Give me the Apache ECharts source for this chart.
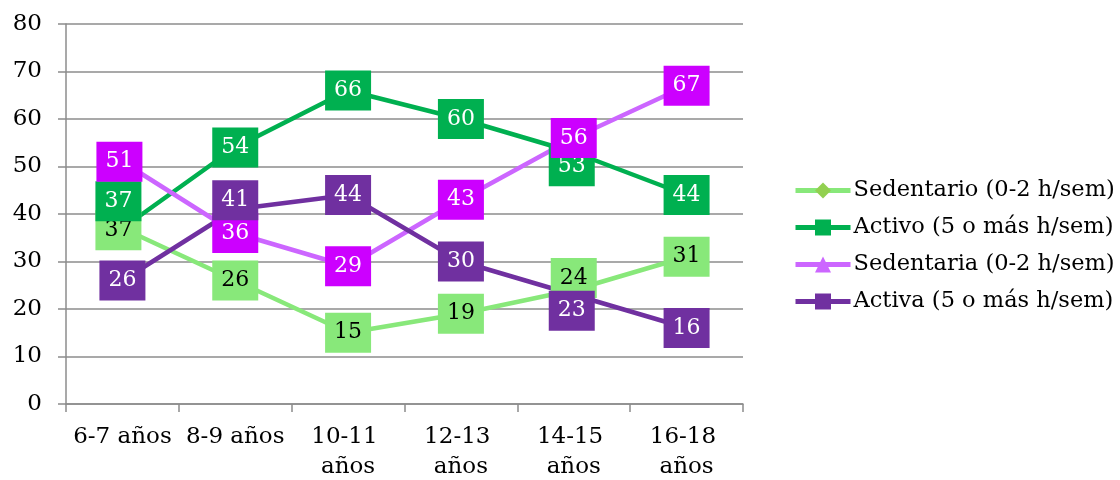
<!DOCTYPE html>
<html>
<head>
<meta charset="utf-8">
<script src="https://cdn.jsdelivr.net/npm/echarts@6/dist/echarts.min.js"></script>
<style>
  html, body { margin: 0; padding: 0; background: #fff; }
  #chart { width: 1120px; height: 480px; }
</style>
</head>
<body>
<div id="chart"></div>
<script>
// Age groups on the x axis
const categories = ['6-7 años', '8-9 años', '10-11 años', '12-13 años', '14-15 años', '16-18 años'];

// Percentages per group
const seriesNames = ['Sedentario (0-2 h/sem)', 'Activo (5 o más h/sem)', 'Sedentaria (0-2 h/sem)', 'Activa (5 o más h/sem)'];
const sedentario = [37, 26, 15, 19, 24, 31];
const activo = [37, 54, 66, 60, 53, 44];
const sedentaria = [51, 36, 29, 43, 56, 67];
const activa = [26, 41, 44, 30, 23, 16];

// Value axis ticks
const yTicks = [0, 10, 20, 30, 40, 50, 60, 70, 80];

const FONT = 'DejaVu Serif';

// Per-series look
const looks = [
  { line: '#88e87a', symbol: 'diamond', symbolColor: '#92d050', labelBg: '#88e87a', labelColor: '#000000' },
  { line: '#00b050', symbol: 'rect', symbolColor: '#00b050', labelBg: '#00b050', labelColor: '#ffffff' },
  { line: '#cc66ff', symbol: 'triangle', symbolColor: '#cc66ff', labelBg: '#cc00ff', labelColor: '#ffffff' },
  { line: '#7030a0', symbol: 'rect', symbolColor: '#7030a0', labelBg: '#7030a0', labelColor: '#ffffff' }
];

// Label nudges [dx, dy] keyed "series:index" so crowded labels don't collide
const nudges = {
  '0:0': [-4, 2], '1:0': [-4, -27], '2:0': [-3, 0],
  '3:1': [0, -9], '1:4': [-2, 14], '0:4': [0, -12], '3:4': [-2, 16]
};

const valueSets = [sedentario, activo, sedentaria, activa];

const series = valueSets.map((vals, s) => {
  const lk = looks[s];
  return {
    name: seriesNames[s],
    type: 'line',
    data: vals,
    symbol: lk.symbol,
    symbolSize: s === 2 ? 16 : 14,
    itemStyle: { color: lk.symbolColor },
    lineStyle: { color: lk.line, width: 4.5 },
    emphasis: { disabled: true },
    // same z for every series so all value boxes sit above all lines and markers
    z: 2,
    label: {
      show: true,
      position: 'inside',
      fontFamily: FONT,
      fontSize: 22,
      lineHeight: 22,
      color: lk.labelColor,
      backgroundColor: lk.labelBg,
      padding: [9, 9, 9, 9]
    },
    labelLayout: function (p) {
      const n = nudges[p.seriesIndex + ':' + p.dataIndex];
      return n ? { dx: n[0], dy: n[1] } : {};
    }
  };
});

const chart = echarts.init(document.getElementById('chart'));
chart.setOption({
  animation: false,
  backgroundColor: '#ffffff',
  grid: { left: 66, right: 377, top: 24, bottom: 76, containLabel: false, outerBoundsMode: 'none' },
  legend: {
    orient: 'vertical',
    left: 793,
    top: 179,
    padding: 0,
    itemWidth: 55,
    itemHeight: 20,
    itemGap: 14,
    selectedMode: false,
    lineStyle: { width: 5 },
    textStyle: { fontFamily: FONT, fontSize: 22.5, lineHeight: 22, color: '#000', padding: [0, 0, 0, -2] },
    data: seriesNames
  },
  xAxis: {
    type: 'category',
    data: categories,
    boundaryGap: true,
    axisLine: { lineStyle: { color: '#8c8c8c', width: 1.5 } },
    axisTick: { show: true, length: 8, lineStyle: { color: '#8c8c8c', width: 1.5 } },
    axisLabel: {
      interval: 0,
      fontFamily: FONT,
      fontSize: 23,
      lineHeight: 30,
      color: '#000',
      margin: 18,
      width: 112,
      overflow: 'break'
    },
    splitLine: { show: false }
  },
  yAxis: {
    type: 'value',
    min: yTicks[0],
    max: yTicks[yTicks.length - 1],
    interval: yTicks[1] - yTicks[0],
    axisLine: { show: true, lineStyle: { color: '#8c8c8c', width: 1.5 } },
    axisTick: { show: true, length: 8, lineStyle: { color: '#8c8c8c', width: 1.5 } },
    axisLabel: { fontFamily: FONT, fontSize: 23, color: '#000', margin: 24 },
    splitLine: { show: true, lineStyle: { color: '#8c8c8c', width: 1.5 } }
  },
  series: series
});
</script>
</body>
</html>
